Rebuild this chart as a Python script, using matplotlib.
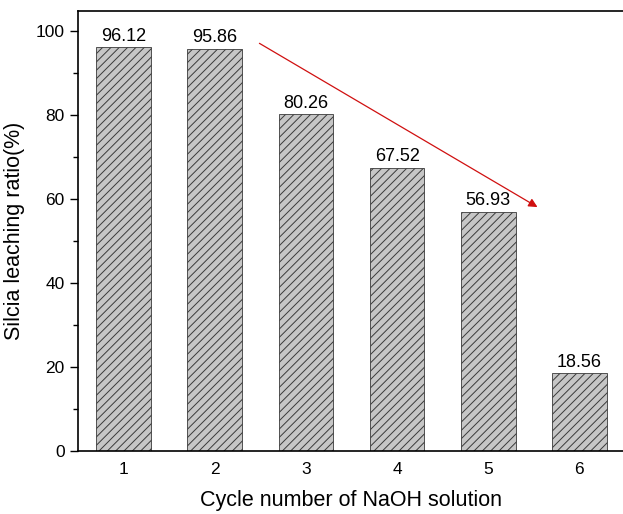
import matplotlib
matplotlib.use("Agg")
import matplotlib.pyplot as plt
from matplotlib.ticker import MultipleLocator

# data
cycles = [1, 2, 3, 4, 5, 6]
ratios = [96.12, 95.86, 80.26, 67.52, 56.93, 18.56]
labels = ["96.12", "95.86", "80.26", "67.52", "56.93", "18.56"]

plt.rcParams['font.family'] = ['Liberation Sans', 'DejaVu Sans']
plt.rcParams['hatch.linewidth'] = 0.7

fig = plt.figure(figsize=(6.23, 5.14), dpi=100)
# right spine sits just past the picture edge, as in the reference
ax = fig.add_axes([0.1252, 0.1226, 0.878, 0.856])

bars = ax.bar(cycles, ratios, width=0.6, color='#c6c6c6', edgecolor='#3a3a3a',
              linewidth=0.6, hatch='////')

for x, y, t in zip(cycles, ratios, labels):
    ax.text(x, y + 0.6, t, ha='center', va='bottom', fontsize=13)

# trend arrow
ax.annotate('', xy=(5.54, 58.1), xytext=(2.49, 97.1),
            arrowprops=dict(arrowstyle='-|>', color='#d01010', lw=0.9,
                            mutation_scale=13, shrinkA=0, shrinkB=0))

ax.set_xlim(0.5, 6.5)
ax.set_ylim(0, 104.8)
ax.set_xticks(cycles)
ax.yaxis.set_major_locator(MultipleLocator(20))
ax.yaxis.set_minor_locator(MultipleLocator(10))
ax.tick_params(axis='x', length=0, labelsize=12.5, pad=8)
ax.tick_params(axis='y', which='major', length=6, width=1, labelsize=12.5, direction='out')
ax.tick_params(axis='y', which='minor', length=3.5, width=1, direction='out')

for s in ax.spines.values():
    s.set_linewidth(1.2)

ax.set_xlabel('Cycle number of NaOH solution', fontsize=15.5, labelpad=9)
ax.set_ylabel('Silcia leaching ratio(%)', fontsize=15.5, labelpad=8)

fig.savefig('out.png', dpi=100)
